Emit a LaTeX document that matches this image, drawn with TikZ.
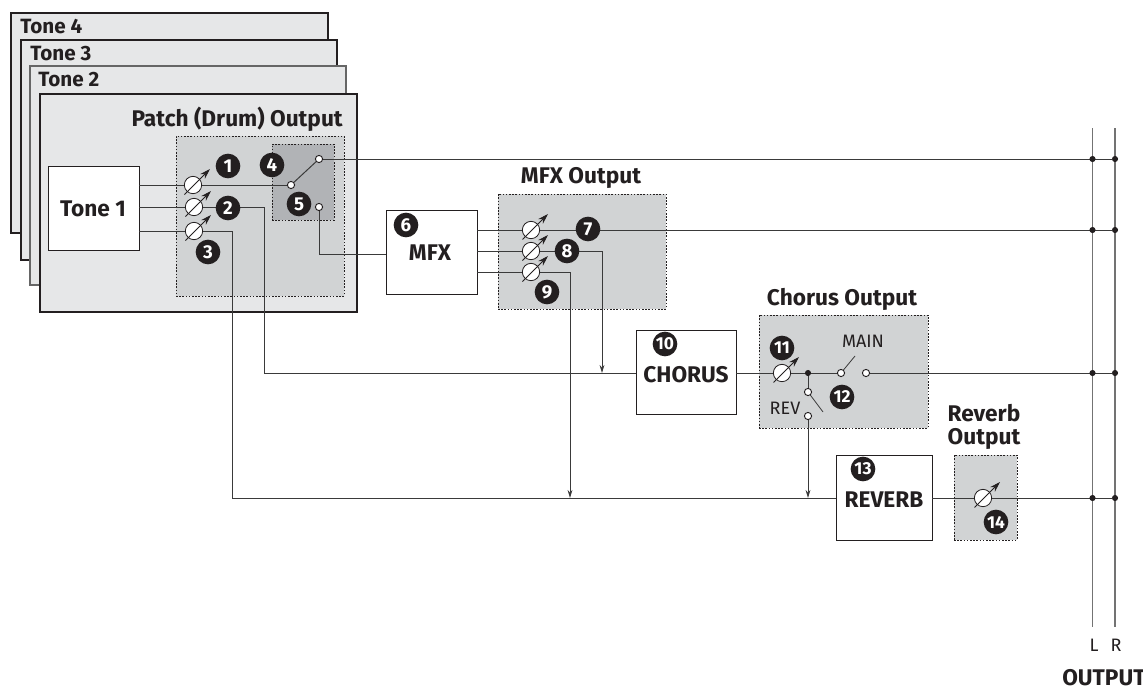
\documentclass[tikz,border=0pt]{standalone}
\usepackage{fontspec}
\setmainfont{Fira Sans}
\usetikzlibrary{arrows.meta,calc}
\definecolor{panel}{HTML}{E6E7E8}
\definecolor{dotgray}{HTML}{D1D3D4}
\definecolor{dotdark}{HTML}{B1B3B6}
\definecolor{wire}{HTML}{3A3A3A}
\definecolor{inkdark}{HTML}{231F20}
\pgfdeclarelayer{back}
\pgfdeclarelayer{wires}
\pgfsetlayers{back,wires,main}
\newcommand\pxbox[6]{\node[#2, inner sep=0pt, outer sep=0pt, minimum width={((#5)-(#3))*0.75pt}, minimum height={((#6)-(#4))*0.75pt}] (#1) at ({((#3)+(#5))/2},{((#4)+(#6))/2}) {};}
\newcommand\knob[3]{%
  \node[knobc] (#1) at (#2,#3) {};
  \draw[knobarrow] ($(#1)+(-8.5,9.5)$) -- ($(#1)+(17,-16)$);}
\tikzset{
  tonepanel/.style={draw=inkdark, fill=panel, line width=1.6pt},
  midpanel/.style={draw=inkdark, fill=panel, line width=0.8pt},
  graypanel/.style={draw=black!60, fill=panel, line width=1.1pt},
  dotbox/.style={draw=inkdark, fill=dotgray, line width=0.75pt, dash pattern=on 1.2pt off 1.2pt},
  dotinner/.style={draw=inkdark, fill=dotdark, line width=0.75pt, dash pattern=on 1.2pt off 1.2pt},
  fxbox/.style={draw=inkdark, fill=white, line width=0.75pt},
  wireln/.style={draw=wire, line width=0.75pt},
  busln/.style={draw=black!55, line width=1.3pt},
  sigarrow/.style={wireln, -{Stealth[length=6pt,width=3.6pt]}},
  knobc/.style={circle, draw=inkdark, fill=white, line width=0.6pt, minimum size=13pt, inner sep=0pt, outer sep=0pt},
  knobarrow/.style={draw=inkdark, line width=0.6pt, -{Stealth[length=8pt,width=5pt]}},
  badge/.style={circle, fill=inkdark, text=white, font=\fontsize{14}{14}\bfseries\selectfont, minimum size=18.5pt, inner sep=0pt},
  badgetwo/.style={badge, font=\fontsize{13}{13}\bfseries\selectfont},
  sw/.style={circle, draw=inkdark, fill=white, line width=0.7pt, minimum size=5.4pt, inner sep=0pt, outer sep=0pt},
  jdot/.style={circle, fill=inkdark, minimum size=4.6pt, inner sep=0pt, outer sep=0pt},
  title/.style={font=\fontsize{17}{16}\bfseries\selectfont, text=inkdark, inner sep=0pt},
  tonetitle/.style={font=\fontsize{15.5}{16}\bfseries\selectfont, text=inkdark, inner sep=0pt},
  fxlabel/.style={font=\fontsize{17}{17}\bfseries\selectfont, text=inkdark, inner sep=0pt},
  small/.style={font=\fontsize{13.5}{14}\selectfont, text=inkdark, inner sep=0pt},
}
\begin{document}
\begin{tikzpicture}[x=0.75pt,y=-0.75pt]
\useasboundingbox (0,0) rectangle (1143,686);
\begin{pgfonlayer}{back}
\pxbox{toneD}{tonepanel}{11}{13}{328}{233}
\pxbox{toneC}{midpanel}{21}{40}{337}{260}
\pxbox{toneB}{graypanel}{30}{66}{346}{285}
\pxbox{toneA}{tonepanel}{40}{94}{357}{312}
\pxbox{patchout}{dotbox}{176}{136}{344}{296}
\pxbox{patchin}{dotinner}{272}{144}{334}{220}
\pxbox{mfxout}{dotbox}{498}{194}{666}{309}
\pxbox{chorout}{dotbox}{759}{315}{928}{428}
\pxbox{revout}{dotbox}{954}{455}{1017}{540}
\pxbox{tone1}{fxbox}{48}{166}{139}{250}
\pxbox{mfx}{fxbox}{386}{210}{477}{294}
\pxbox{chorus}{fxbox}{636}{330}{736}{414}
\pxbox{reverb}{fxbox}{836}{455}{932}{540}
\end{pgfonlayer}
\node[tonetitle, anchor=west] (t4) at (20,27) {Tone 4};
\node[tonetitle, anchor=west] (t3) at (30,54) {Tone 3};
\node[tonetitle, anchor=west] (t2) at (38,80) {Tone 2};
\node[title, anchor=east] (patchlab) at (343,119) {Patch (Drum) Output};
\node[title] (mfxlab) at (581,178) {MFX Output};
\node[title] (chorlab) at (842,299) {Chorus Output};
\node[title, align=center] (revlab) at (984,427) {Reverb\\[1pt]Output};
\node[fxlabel] (tone1lab) at (93,209) {Tone 1};
\node[fxlabel] (mfxlab2) at (430,253) {MFX};
\node[fxlabel] (chorlab2) at (686,375) {CHORUS};
\node[fxlabel] (revlab2) at (884,500) {REVERB};
\coordinate (lt) at (1092.5,128); \coordinate (lb) at (1092.5,627);
\coordinate (rt) at (1115,128); \coordinate (rb) at (1115,627);
\node[small] (Llab) at (1094,645) {L};
\node[small] (Rlab) at (1116,645) {R};
\node[title, anchor=west] (outlab) at (1062,678) {OUTPUT};
\node[sw] (s1) at (291,185) {};
\node[sw] (s2) at (319,159) {};
\node[sw] (s3) at (319,207) {};
\node[sw] (c1) at (841,373) {};
\node[sw] (c2) at (866,373) {};
\node[sw] (c3) at (808,392) {};
\node[sw] (c4) at (808,416) {};
\node[jdot] (c0) at (808,373) {};
\coordinate (a1end) at (855,356);
\coordinate (a2end) at (823,412);
\node[jdot] (j1l) at (1092.5,159) {}; \node[jdot] (j1r) at (1115,159) {};
\node[jdot] (j2l) at (1092.5,230) {}; \node[jdot] (j2r) at (1115,230) {};
\node[jdot] (j3l) at (1092.5,373) {}; \node[jdot] (j3r) at (1115,373) {};
\node[jdot] (j4l) at (1092.5,498) {}; \node[jdot] (j4r) at (1115,498) {};
\knob{k1}{193}{185}\knob{k2}{194}{207}\knob{k3}{194}{231}
\knob{k7}{531}{230}\knob{k8}{531}{251}\knob{k9}{531}{272}
\knob{k11}{782}{373}\knob{k14}{983}{498}
\node[badge] (b1) at (228,166) {1};
\node[badge] (b2) at (228,208) {2};
\node[badge] (b3) at (208,252) {3};
\node[badge] (b4) at (272,165) {4};
\node[badge] (b5) at (299,204) {5};
\node[badge] (b6) at (406,225) {6};
\node[badge] (b7) at (588,229) {7};
\node[badge] (b8) at (567,251) {8};
\node[badge] (b9) at (547,292) {9};
\node[badgetwo] (b10) at (665,344) {10};
\node[badgetwo] (b11) at (782,348) {11};
\node[badgetwo] (b12) at (842,397) {12};
\node[badgetwo] (b13) at (863,469) {13};
\node[badgetwo] (b14) at (996,522) {14};
\node[small] (mainlab) at (863,341) {MAIN};
\node[small] (revlab3) at (785,408) {REV};
\begin{pgfonlayer}{wires}
\draw[busln] (lt) -- (lb);
\draw[busln] (rt) -- (rb);
\coordinate (w1a) at (139,185); \coordinate (w2a) at (139,207); \coordinate (w3a) at (139,231);
\coordinate (w2b) at (264,207); \coordinate (w2c) at (264,373);
\coordinate (w3b) at (232,231); \coordinate (w3c) at (232,498);
\coordinate (w5) at (319,254);
\coordinate (m1a) at (477,230); \coordinate (m2a) at (477,251); \coordinate (m3a) at (477,272);
\coordinate (m2b) at (602,251); \coordinate (m2c) at (602,373);
\coordinate (m3b) at (570,272); \coordinate (m3c) at (570,498);
\draw[wireln] (w1a) -- (s1);
\draw[wireln] (s1) -- (s2);
\draw[wireln] (s2) -- (j1r);
\draw[wireln] (w2a) -- (w2b) -- (w2c) -- (w2c -| chorus.west);
\draw[wireln] (w3a) -- (w3b) -- (w3c) -- (w3c -| reverb.west);
\draw[wireln] (s3) -- (w5) -- (w5 -| mfx.west);
\draw[wireln] (m1a) -- (j2r);
\draw[wireln] (m2a) -- (m2b);
\draw[sigarrow] (m2b) -- (m2c);
\draw[wireln] (m3a) -- (m3b);
\draw[sigarrow] (m3b) -- (m3c);
\draw[wireln] (c0 -| chorus.east) -- (c0) -- (c1);
\draw[wireln, line width=0.6pt] (c1) -- (a1end);
\draw[wireln] (c2) -- (j3r);
\draw[wireln] (c0) -- (c3);
\draw[wireln, line width=0.6pt] (c3) -- (a2end);
\draw[sigarrow] (c4) -- (c4 |- w3c);
\draw[wireln] (j4l -| reverb.east) -- (j4r);
\end{pgfonlayer}
\end{tikzpicture}
\end{document}
